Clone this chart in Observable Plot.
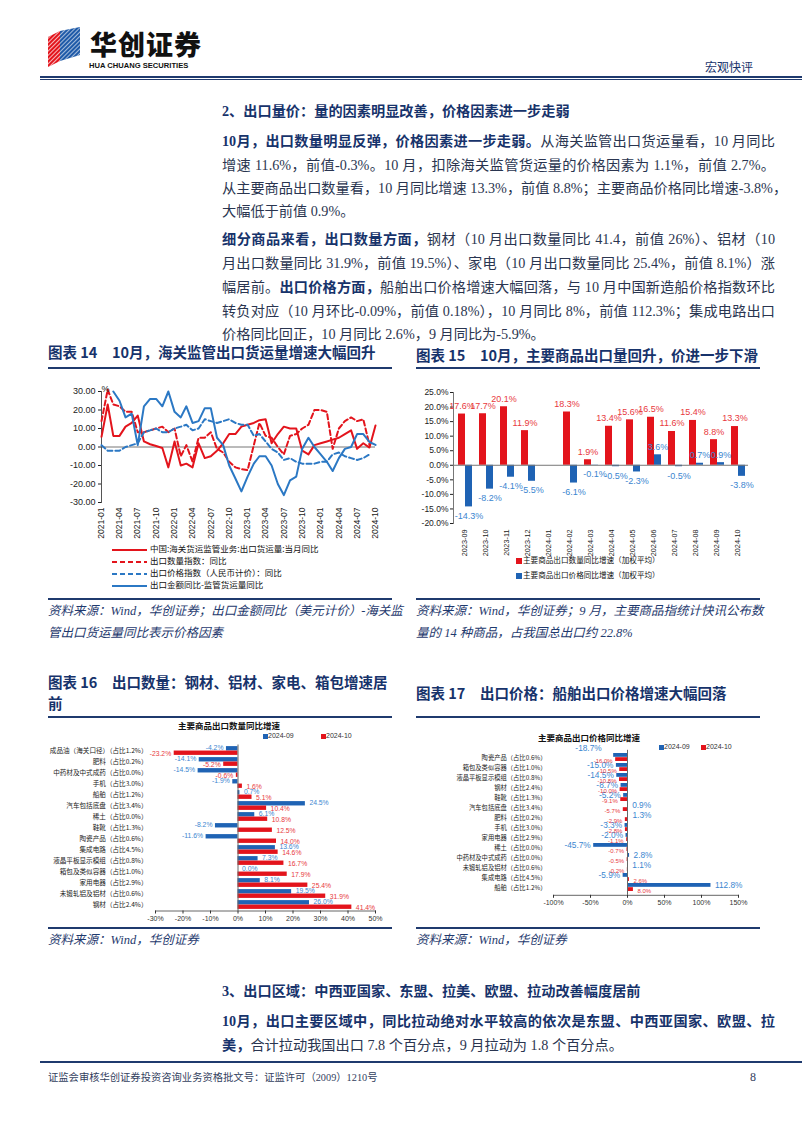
<!DOCTYPE html>
<html><head><meta charset="utf-8">
<script src="https://cdn.jsdelivr.net/npm/d3@7"></script>
<script src="https://cdn.jsdelivr.net/npm/@observablehq/plot@0.6"></script>
<style>
html,body{margin:0;padding:0;background:#fff;}
body{width:802px;height:1133px;position:relative;overflow:hidden;font-family:"Liberation Serif","Noto Sans CJK SC",serif;color:#2a3550;}
.abs{position:absolute;white-space:nowrap;}
.navy{color:#17336b;}
.b{font-weight:bold;color:#17336b;}
.jl{text-align:justify;text-align-last:justify;}
.ttl{font-family:"Noto Sans CJK SC",sans-serif;font-weight:bold;font-size:14.5px;color:#17336b;}
.src{font-style:italic;font-size:12.5px;color:#1f3a6e;font-family:"Liberation Serif","Noto Sans CJK SC",serif;}
.hr{position:absolute;height:0;border-top:2px solid #1f3a6e;}
.leg{font-family:"Noto Sans CJK SC",sans-serif;color:#111;}
svg{overflow:visible;}
</style></head><body>
<script>
// ---------------- DATA ----------------
// Chart 14: monthly 2021-01 .. 2024-10 (46 months)
const chart14Start = [2021, 0];
const chart14Count = 46;
const freightYoY = [5.5,23,6,6,11,13,17,3,1.5,0.5,-0.5,-11,3,-10,-9,-11,2,-6,-5,-2,2,7,7,11,12,13,14.5,15,2,7,11,10,10,-2,-4,1,2,3,4,5,7,9,-1,2,-0.3,11.6];
const exportQtyIdx = [14,31,23,22,19,19,8,8,9,10,11,8,10,-5,1,-8,5,5,8,-1,-3,-8,-11,-12,-12.5,1,13,6,5,0,-4,6,7,10,12,20,20,19,-1,10,14,16,14,15,1];
const exportPriceIdx = [1,-2,-2,-2,0,1,2,8,9,10,8,8,10,11,12,9,10,15,14,13,14,15,13,12,12,6,7,3,-1,-3,-7,-6,-8,-9,-9,-9,-8,-8,-4,-3,-5,-6,-7,-6,-4];
const valueMinusFreight = [null,null,30,25,16,18,1,22,26,26,22,30,19,16,22,13,14,21,21,5,1,-10,-17,-24,-16,-9,-5,-5,-10,-20,-26,-18,-16,-1,5,0,-4,-8,-13,-6,-1,0,7,7,2.7,1.1];
const chart14Names = ["中国:海关货运监管业务:出口货运量:当月同比","出口数量指数：同比","出口价格指数（人民币计价）：同比","出口金额同比-监管货运量同比"];
const chart14Ticks = [-30,-20,-10,0,10,20,30];

// Chart 15
const months15 = ["2023-09","2023-10","2023-11","2023-12","2024-01","2024-02","2024-03","2024-04","2024-05","2024-06","2024-07","2024-08","2024-09","2024-10"];
const qty15 = [17.6,17.7,20.1,11.9,null,18.3,1.9,13.4,15.6,16.5,11.6,15.4,8.8,13.3];
const price15 = [-14.3,-8.2,-4.1,-5.5,null,-6.1,-0.1,-0.5,-2.3,3.6,-0.5,0.7,0.9,-3.8];
const chart15Names = ["主要商品出口数量同比增速（加权平均）","主要商品出口价格同比增速（加权平均）"];
const chart15Ticks = [-20,-15,-10,-5,0,5,10,15,20,25];

// Chart 16
const cats16 = ["成品油（海关口径）（占比1.2%）","肥料（占比0.2%）","中药材及中式成药（占比0.0%）","手机（占比3.0%）","船舶（占比1.2%）","汽车包括底盘（占比3.4%）","稀土（占比0.0%）","鞋靴（占比1.3%）","陶瓷产品（占比0.6%）","集成电路（占比4.5%）","液晶平板显示模组（占比0.8%）","箱包及类似容器（占比1.0%）","家用电器（占比2.9%）","未锻轧铝及铝材（占比0.6%）","钢材（占比2.4%）"];
const qtySep16 = [-4.2,-14.1,-14.5,-1.9,0.7,24.5,6.1,-8.2,-11.6,13.6,7.3,0.0,8.1,19.5,26.0];
const qtyOct16 = [-23.2,-5.2,-0.6,1.6,5.1,10.4,10.8,12.5,14.0,14.6,16.7,17.9,25.4,31.9,41.4];
const ticks16 = [-30,-20,-10,0,10,20,30,40,50];

// Chart 17
const cats17 = ["陶瓷产品（占比0.6%）","箱包及类似容器（占比1.0%）","液晶平板显示模组（占比0.8%）","钢材（占比2.4%）","鞋靴（占比1.3%）","汽车包括底盘（占比3.4%）","肥料（占比0.2%）","手机（占比3.0%）","家用电器（占比2.9%）","稀土（占比0.0%）","中药材及中式成药（占比0.0%）","未锻轧铝及铝材（占比0.6%）","集成电路（占比4.5%）","船舶（占比1.2%）"];
const priceSep17 = [-18.7,-15.0,-14.5,-8.7,-5.2,0.9,1.3,-3.3,-2.0,-45.7,2.8,1.1,-5.9,112.8];
const priceOct17 = [-16.0,-10.5,-10.8,-10.0,-9.1,-5.7,-2.9,-2.8,-1.1,-0.7,-0.5,-0.2,2.6,8.0];
const ticks17 = [-100,-50,0,50,100,150];
const seriesNames = ["2024-09","2024-10"];

// ---------------- helpers ----------------
const RED = "#e3141c", BLUE = "#1f63b4", RED_T = "#e8393d", BLUE_T = "#3b86d0";
function put(html, style, cls) {
  const d = document.createElement("div");
  d.className = "abs " + (cls || "");
  d.innerHTML = html;
  Object.assign(d.style, style);
  document.body.appendChild(d);
  return d;
}
function hr(x1, x2, y, w) {
  const d = document.createElement("div");
  d.className = "hr";
  Object.assign(d.style, {left: x1 + "px", width: (x2 - x1) + "px", top: y + "px"});
  if (w) d.style.borderTopWidth = w + "px";
  document.body.appendChild(d);
}
function place(svg, left, top) {
  const w = document.createElement("div");
  w.className = "abs";
  Object.assign(w.style, {left: left + "px", top: top + "px"});
  w.appendChild(svg);
  document.body.appendChild(w);
}
const FS = 14.2, LH = 23.5;
function bodyLine(html, cy, justify) {
  put(html, {left: "222px", top: (cy - LH / 2) + "px", width: "553px", fontSize: FS + "px", lineHeight: LH + "px"}, justify ? "jl" : "");
}

// ---------------- header ----------------
put(`<svg width="36" height="40" viewBox="0 0 36 40">
<defs><pattern id="st" width="3" height="3" patternUnits="userSpaceOnUse" patternTransform="rotate(45)"><rect width="3" height="3" fill="none"/><rect width="1" height="3" fill="#fff"/></pattern></defs>
<polygon points="2,10 14,4 14,34 2,40" fill="#e3141c"/>
<polygon points="2,10 14,4 14,34 2,40" fill="url(#st)" opacity="0.7"/>
<polygon points="14,4 34,0 34,28 14,34" fill="#1f5aa8"/>
<polygon points="14,4 34,0 34,28 14,34" fill="url(#st)" opacity="0.6"/>
</svg>`, {left: "46px", top: "27px"});
put("华创证券", {left: "90px", top: "29px", fontSize: "27px", fontWeight: "900", color: "#111", fontFamily: "'Noto Sans CJK SC',sans-serif", letterSpacing: "1px", lineHeight: "30px"});
put("HUA CHUANG SECURITIES", {left: "89px", top: "61px", fontSize: "7.6px", fontWeight: "bold", color: "#111", fontFamily: "'Liberation Sans',sans-serif", lineHeight: "9px"});
put("宏观快评", {left: "705px", top: "59px", fontSize: "12px", color: "#17336b", fontFamily: "'Noto Sans CJK SC',sans-serif", lineHeight: "16px"});
hr(40, 802, 76, 2); hr(40, 802, 79, 1);

// ---------------- section 2 text ----------------
put("2、出口量价：量的因素明显改善，价格因素进一步走弱", {left: "222px", top: (112 - LH / 2) + "px", fontSize: FS + "px", lineHeight: LH + "px"}, "b");
bodyLine(`<span class="b">10月，出口数量明显反弹，价格因素进一步走弱。</span>从海关监管出口货运量看，10 月同比`, 142, true);
bodyLine(`增速 11.6%，前值-0.3%。10 月，扣除海关监管货运量的价格因素为 1.1%，前值 2.7%。`, 166, true);
bodyLine(`从主要商品出口数量看，10 月同比增速 13.3%，前值 8.8%；主要商品价格同比增速-3.8%，`, 189, true);
bodyLine(`大幅低于前值 0.9%。`, 212, false);
bodyLine(`<span class="b">细分商品来看，出口数量方面，</span>钢材（10 月出口数量同比 41.4，前值 26%）、铝材（10`, 240, true);
bodyLine(`月出口数量同比 31.9%，前值 19.5%）、家电（10 月出口数量同比 25.4%，前值 8.1%）涨`, 264, true);
bodyLine(`幅居前。<span class="b">出口价格方面，</span>船舶出口价格增速大幅回落，与 10 月中国新造船价格指数环比`, 288, true);
bodyLine(`转负对应（10 月环比-0.09%，前值 0.18%），10 月同比 8%，前值 112.3%；集成电路出口`, 312, true);
bodyLine(`价格同比回正，10 月同比 2.6%，9 月同比为-5.9%。`, 335, false);

// ---------------- chart titles / rules / sources ----------------
put("图表 14　10月，海关监管出口货运量增速大幅回升", {left: "48px", top: "342px", lineHeight: "20px"}, "ttl");
put("图表 15　10月，主要商品出口量回升，价进一步下滑", {left: "416px", top: "345px", lineHeight: "20px"}, "ttl");
hr(48, 392, 367); hr(416, 760, 367);
hr(48, 392, 598); hr(416, 760, 598);
put("资料来源：Wind，华创证券；出口金额同比（美元计价）-海关监", {left: "48px", top: "600px", lineHeight: "22px"}, "src");
put("管出口货运量同比表示价格因素", {left: "48px", top: "622px", lineHeight: "22px"}, "src");
put("资料来源：Wind，华创证券；9 月，主要商品指统计快讯公布数", {left: "416px", top: "600px", lineHeight: "22px"}, "src");
put("量的 14 种商品，占我国总出口约 22.8%", {left: "416px", top: "622px", lineHeight: "22px"}, "src");

put("图表 16　出口数量：钢材、铝材、家电、箱包增速居", {left: "48px", top: "671px", lineHeight: "22px"}, "ttl");
put("前", {left: "48px", top: "692px", lineHeight: "22px"}, "ttl");
put("图表 17　出口价格：船舶出口价格增速大幅回落", {left: "416px", top: "682px", lineHeight: "22px"}, "ttl");
hr(48, 392, 716); hr(416, 760, 716);
hr(48, 392, 927); hr(416, 760, 927);
put("资料来源：Wind，华创证券", {left: "48px", top: "929px", lineHeight: "22px"}, "src");
put("资料来源：Wind，华创证券", {left: "416px", top: "929px", lineHeight: "22px"}, "src");

// ---------------- section 3 ----------------
put("3、出口区域：中西亚国家、东盟、拉美、欧盟、拉动改善幅度居前", {left: "222px", top: (992 - LH / 2) + "px", fontSize: FS + "px", lineHeight: LH + "px"}, "b");
bodyLine(`<span class="b">10月，出口主要区域中，同比拉动绝对水平较高的依次是东盟、中西亚国家、欧盟、拉</span>`, 1022, true);
bodyLine(`<span class="b">美，</span>合计拉动我国出口 7.8 个百分点，9 月拉动为 1.8 个百分点。`, 1046, false);

// footer
hr(40, 802, 1061, 2);
put("证监会审核华创证券投资咨询业务资格批文号：证监许可（2009）1210号", {left: "48px", top: "1071px", fontSize: "10.3px", lineHeight: "14px", color: "#33415e"});
put("8", {left: "750px", top: "1070px", fontSize: "12px", lineHeight: "14px", color: "#33415e"});

// ---------------- Chart 14 ----------------
const dates14 = d3.range(chart14Count).map(i => new Date(Date.UTC(chart14Start[0], chart14Start[1] + i, 1)));
const rows14 = (arr, k) => dates14.map((d, i) => ({date: d, v: arr[i] == null ? NaN : arr[i], k}));
const s14 = [
  {data: rows14(freightYoY, 0), stroke: RED, dash: null},
  {data: rows14(exportQtyIdx, 1), stroke: RED, dash: "5,3"},
  {data: rows14(exportPriceIdx, 2), stroke: "#2b78c4", dash: "5,3"},
  {data: rows14(valueMinusFreight, 3), stroke: "#2b78c4", dash: null}
];
const c14 = Plot.plot({
  width: 344, height: 170,
  marginLeft: 53, marginRight: 17, marginTop: 16, marginBottom: 43,
  style: {fontFamily: "'Liberation Sans',Arial,sans-serif", fontSize: "9px", color: "#222", background: "transparent"},
  x: {type: "utc", domain: [dates14[0], dates14[chart14Count - 1]], label: null},
  y: {domain: [-30, 30], label: null},
  marks: [
    Plot.ruleY([0], {stroke: "#777", strokeWidth: 1}),
    Plot.frame({anchor: "left", stroke: "#555"}),
    Plot.axisY({ticks: chart14Ticks, tickFormat: d => d.toFixed(2), tickSize: 3, tickPadding: 3, fontSize: 9}),
    Plot.axisX({ticks: d3.utcMonth.every(3), tickFormat: d3.utcFormat("%Y-%m"), tickRotate: -90, tickSize: 0, tickPadding: 5, fontSize: 8.5}),
    ...s14.map(s => Plot.lineY(s.data, {x: "date", y: "v", stroke: s.stroke, strokeWidth: 2, strokeDasharray: s.dash})),
    Plot.text(["%"], {frameAnchor: "top-left", dx: 0, dy: -6, fontSize: 9})
  ]
});
place(c14, 48, 375);
// legend 14
s14.forEach((s, i) => {
  put(`<svg width="36" height="6" style="vertical-align:middle"><line x1="0" y1="3" x2="35" y2="3" stroke="${s.stroke}" stroke-width="2" ${s.dash ? `stroke-dasharray="${s.dash}"` : ""}/></svg> ${chart14Names[i]}`,
    {left: "112px", top: (548 + i * 12 - 7) + "px", fontSize: "8.5px", lineHeight: "14px"}, "leg");
});

// ---------------- Chart 15 ----------------
const rows15q = months15.map((m, i) => ({m, v: qty15[i]})).filter(d => d.v != null);
const rows15p = months15.map((m, i) => ({m, v: price15[i]})).filter(d => d.v != null);
const c15 = Plot.plot({
  width: 350, height: 180,
  marginLeft: 43, marginRight: 12, marginTop: 12, marginBottom: 37,
  style: {fontFamily: "'Liberation Sans',Arial,sans-serif", fontSize: "8.5px", color: "#222", background: "transparent"},
  x: {type: "band", domain: months15, padding: 0, label: null},
  y: {domain: [-20, 25], label: null},
  marks: [
    Plot.barY(rows15q, {x: "m", y: "v", fill: RED, insetLeft: 4, insetRight: 10}),
    Plot.barY(rows15p, {x: "m", y: "v", fill: BLUE, insetLeft: 11, insetRight: 3}),
    Plot.ruleY([0], {stroke: "#777"}),
    Plot.frame({anchor: "left", stroke: "#777"}),
    Plot.axisY({ticks: chart15Ticks, tickFormat: d => d.toFixed(1) + "%", tickSize: 3, tickPadding: 2, fontSize: 8.5}),
    Plot.axisX({tickRotate: -90, tickSize: 0, tickPadding: 6, fontSize: 7.3}),
    Plot.text(rows15q, {x: "m", y: "v", text: d => d.v.toFixed(1) + "%", dx: -3, dy: -8, fill: RED_T, fontSize: 9}),
    Plot.text(rows15p.filter(d => d.v < 0), {x: "m", y: "v", text: d => d.v.toFixed(1) + "%", dx: 4, dy: 9, fill: BLUE_T, fontSize: 9}),
    Plot.text(rows15p.filter(d => d.v >= 0), {x: "m", y: "v", text: d => d.v.toFixed(1) + "%", dx: 4, dy: -8, fill: BLUE_T, fontSize: 9})
  ]
});
place(c15, 410, 380);
[RED, BLUE].forEach((c, i) => {
  put(`<span style="display:inline-block;width:6px;height:6px;background:${c};margin-right:1px;vertical-align:middle"></span>${chart15Names[i]}`,
    {left: "516px", top: (560 + i * 15 - 7) + "px", fontSize: "7.6px", lineHeight: "14px"}, "leg");
});

// ---------------- Chart 16 & 17 (horizontal grouped bars) ----------------
function hbars(cats, sep, oct, opts) {
  const a = cats.map((c, i) => ({c, v: sep[i]}));
  const b = cats.map((c, i) => ({c, v: oct[i]}));
  const fmt = d => d.v.toFixed(1) + "%";
  const half = opts.bw / 2;
  const lab = (rows, fill, dy, fs, extra) => [
    Plot.text(rows.filter(d => d.v >= 0 && (!extra || extra(d))), {x: "v", y: "c", text: fmt, dx: 4, dy, textAnchor: "start", fill, fontSize: fs}),
    Plot.text(rows.filter(d => d.v < 0 && (!extra || extra(d))), {x: "v", y: "c", text: fmt, dx: -3, dy, textAnchor: "end", fill, fontSize: fs})
  ];
  return Plot.plot({
    width: opts.width, height: opts.height,
    marginLeft: opts.ml, marginRight: opts.mr, marginTop: opts.mt, marginBottom: opts.mb,
    style: {fontFamily: "'Liberation Sans',Arial,sans-serif", fontSize: "7px", color: "#333", background: "transparent"},
    x: {domain: opts.domain, label: null},
    y: {type: "band", domain: cats, padding: 0, label: null},
    marks: [
      Plot.barX(a, {x: "v", y: "c", fill: BLUE, insetTop: opts.gap, insetBottom: half}),
      Plot.barX(b, {x: "v", y: "c", fill: RED, insetTop: half, insetBottom: opts.gap}),
      Plot.ruleX([0], {stroke: "#666"}),
      Plot.frame({anchor: "bottom", stroke: "#666"}),
      Plot.axisX({ticks: opts.ticks, tickFormat: d => d + "%", tickSize: 3, tickPadding: 2, fontSize: 7}),
      Plot.axisY({tickSize: 0, tickPadding: opts.pad, fontSize: opts.catFs, fontFamily: "'Noto Sans CJK SC',sans-serif", fill: "#222"}),
      ...lab(a, BLUE_T, -half / 2, opts.blueFs, opts.skip),
      ...lab(b, RED_T, half / 2 + 0.5, opts.redFs),
      ...(opts.extraMarks ? opts.extraMarks(a) : [])
    ]
  });
}
const c16 = hbars(cats16, qtySep16, qtyOct16, {
  width: 345, height: 188, ml: 107, mr: 18, mt: 4.5, mb: 17.5, bw: 166 / 15, gap: 1.1,
  domain: [-30, 50], ticks: ticks16, pad: 8, catFs: 6.6, blueFs: 6.8, redFs: 6.8
});
place(c16, 48, 740);
put("主要商品出口数量同比增速", {left: "178px", top: "719px", fontSize: "8.5px", fontWeight: "bold", lineHeight: "13px", fontFamily: "'Noto Sans CJK SC',sans-serif", color: "#111"});
put(`<span style="display:inline-block;width:5px;height:5px;background:${BLUE};vertical-align:middle"></span>${seriesNames[0]}`, {left: "263px", top: "730px", fontSize: "7px", lineHeight: "12px", color: "#333", fontFamily: "'Liberation Sans',sans-serif"});
put(`<span style="display:inline-block;width:5px;height:5px;background:${RED};vertical-align:middle"></span>${seriesNames[1]}`, {left: "321px", top: "730px", fontSize: "7px", lineHeight: "12px", color: "#333", fontFamily: "'Liberation Sans',sans-serif"});

const c17 = hbars(cats17, priceSep17, priceOct17, {
  width: 350, height: 170, ml: 143, mr: 22, mt: 4.8, mb: 20.2, bw: 145 / 14, gap: 1.0,
  domain: [-100, 150], ticks: ticks17, pad: 7, catFs: 6.3, blueFs: 8.3, redFs: 6.0,
  skip: d => d.c !== cats17[0],
  extraMarks: a => [Plot.text(a.filter(d => d.c === cats17[0]), {x: "v", y: "c", text: d => d.v.toFixed(1) + "%", dx: -12, dy: -9, textAnchor: "end", fill: BLUE_T, fontSize: 8.3})]
});
place(c17, 410, 745);
put("主要商品出口价格同比增速", {left: "538px", top: "731px", fontSize: "8.5px", fontWeight: "bold", lineHeight: "13px", fontFamily: "'Noto Sans CJK SC',sans-serif", color: "#111"});
put(`<span style="display:inline-block;width:5px;height:5px;background:${BLUE};vertical-align:middle"></span>${seriesNames[0]}`, {left: "659px", top: "741px", fontSize: "7px", lineHeight: "12px", color: "#333", fontFamily: "'Liberation Sans',sans-serif"});
put(`<span style="display:inline-block;width:5px;height:5px;background:${RED};vertical-align:middle"></span>${seriesNames[1]}`, {left: "701px", top: "741px", fontSize: "7px", lineHeight: "12px", color: "#333", fontFamily: "'Liberation Sans',sans-serif"});
</script>
</body></html>
